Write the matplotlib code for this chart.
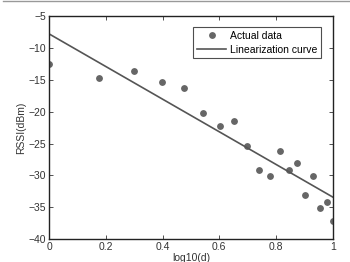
import matplotlib
matplotlib.use("Agg")
import matplotlib.pyplot as plt
import numpy as np
from matplotlib.lines import Line2D

plt.rcParams['font.family'] = ['Liberation Sans', 'DejaVu Sans']

# distances 1..10 m in 0.5 m steps
d = [1, 1.5, 2, 2.5, 3, 3.5, 4, 4.5, 5, 5.5, 6, 6.5, 7, 7.5, 8, 8.5, 9, 9.5, 10]
rssi = [-12.5, -14.8, -13.6, -15.3, -16.25, -20.2, -22.2, -21.4, -25.4, -29.1,
        -30.1, -26.1, -29.1, -28.1, -33.1, -30.1, -35.1, -34.1, -37.1]
# linearization curve: rssi = a + b*log10(d)
fit_a = -7.8
fit_b = -25.6

x = np.log10(d)
xl = np.array([0, 1])

fig = plt.figure(figsize=(3.5, 2.62), dpi=100)
ax = fig.add_axes([0.14, 0.087, 0.811, 0.852])

ax.plot(x, rssi, 'o', color='#666666', markersize=3.9, label='Actual data')
ax.plot(xl, fit_a + fit_b * xl, '-', color='#555555', linewidth=1.2,
        label='Linearization curve')

ax.set_xlim(0, 1)
ax.set_ylim(-40, -5)
ax.set_xticks([0, 0.2, 0.4, 0.6, 0.8, 1])
ax.set_xticklabels(['0', '0.2', '0.4', '0.6', '0.8', '1'])
ax.set_yticks(range(-40, -4, 5))
ax.tick_params(direction='in', top=True, right=True, labelsize=7.5,
               length=3, width=0.6, colors='#333333', pad=2)
for s in ax.spines.values():
    s.set_linewidth(1.0)
    s.set_color('#222222')

ax.set_xlabel('log10(d)', fontsize=7.5, color='#333333', labelpad=1)
ax.set_ylabel('RSSI(dBm)', fontsize=7.5, color='#333333', labelpad=2)

leg = ax.legend(loc='upper right', fontsize=7.5, frameon=True, fancybox=False,
                edgecolor='#222222', borderpad=0.35, handlelength=2.8,
                labelspacing=0.35, handletextpad=0.4, borderaxespad=1.1)
leg.get_frame().set_linewidth(0.8)

fig.add_artist(Line2D([0.008, 1], [0.996, 0.996], transform=fig.transFigure,
                      color='#999999', linewidth=1.0))

fig.savefig('out.png', dpi=100)
